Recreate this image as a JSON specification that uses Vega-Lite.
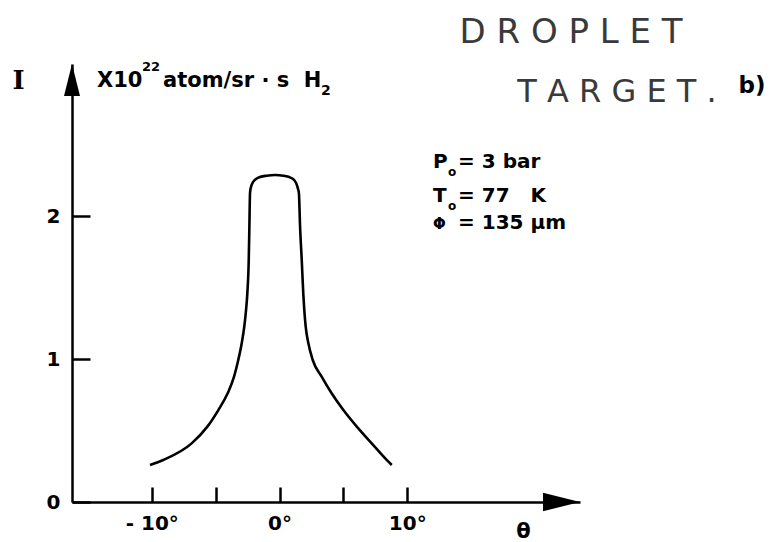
{
  "$schema": "https://vega.github.io/schema/vega-lite/v6.json",
  "autosize": {"type": "none"},
  "width": 508,
  "height": 438,
  "padding": {"left": 72, "top": 64, "right": 194, "bottom": 40},
  "background": "white",
  "config": {"view": {"stroke": null}, "font": "DejaVu Sans"},
  "datasets": {
    "beam": [
      {"theta": -10.14, "I": 0.259},
      {"theta": -9.10, "I": 0.294},
      {"theta": -6.88, "I": 0.410},
      {"theta": -5.65, "I": 0.527},
      {"theta": -4.79, "I": 0.643},
      {"theta": -4.06, "I": 0.760},
      {"theta": -3.56, "I": 0.876},
      {"theta": -3.23, "I": 0.993},
      {"theta": -2.96, "I": 1.110},
      {"theta": -2.76, "I": 1.226},
      {"theta": -2.62, "I": 1.343},
      {"theta": -2.52, "I": 1.459},
      {"theta": -2.41, "I": 1.692},
      {"theta": -2.36, "I": 1.925},
      {"theta": -2.31, "I": 2.159},
      {"theta": -2.26, "I": 2.194},
      {"theta": -2.05, "I": 2.240},
      {"theta": -1.66, "I": 2.268},
      {"theta": -1.00, "I": 2.282},
      {"theta": -0.35, "I": 2.287},
      {"theta": 0.30, "I": 2.282},
      {"theta": 0.96, "I": 2.264},
      {"theta": 1.29, "I": 2.233},
      {"theta": 1.47, "I": 2.182},
      {"theta": 1.52, "I": 2.159},
      {"theta": 1.61, "I": 1.925},
      {"theta": 1.74, "I": 1.692},
      {"theta": 1.86, "I": 1.459},
      {"theta": 1.94, "I": 1.343},
      {"theta": 2.05, "I": 1.226},
      {"theta": 2.26, "I": 1.110},
      {"theta": 2.60, "I": 0.993},
      {"theta": 3.30, "I": 0.876},
      {"theta": 4.08, "I": 0.760},
      {"theta": 5.00, "I": 0.643},
      {"theta": 6.05, "I": 0.527},
      {"theta": 7.22, "I": 0.410},
      {"theta": 8.39, "I": 0.294},
      {"theta": 8.79, "I": 0.259}
    ],
    "one": [{}]
  },
  "layer": [
    {
      "data": {"name": "beam"},
      "mark": {"type": "line", "interpolate": "monotone", "color": "black", "strokeWidth": 2.6},
      "encoding": {
        "x": {
          "field": "theta", "type": "quantitative",
          "scale": {"domain": [-16.25, 23.53], "nice": false, "zero": false},
          "axis": {
            "values": [-10, -5, 0, 5, 10],
            "labelExpr": "datum.value == -10 ? '- 10°' : datum.value == 0 ? '0°' : datum.value == 10 ? '10°' : ''",
            "grid": false,
            "domainColor": "black", "domainWidth": 2.5,
            "tickColor": "black", "tickWidth": 2.5, "tickSize": -15,
            "labelFont": "DejaVu Sans", "labelFontWeight": "bold", "labelFontSize": 20, "labelColor": "black",
            "labelPadding": 26, "labelFlush": false, "labelOverlap": false,
            "title": "θ", "titleFont": "DejaVu Sans", "titleFontSize": 21, "titleFontWeight": "bold", "titleColor": "black",
            "titleX": 451, "titleY": 29, "titleAlign": "center", "titleBaseline": "middle"
          }
        },
        "y": {
          "field": "I", "type": "quantitative",
          "scale": {"domain": [0, 3.063], "nice": false, "zero": false},
          "axis": {
            "values": [0, 1, 2],
            "format": "d",
            "grid": false,
            "domainColor": "black", "domainWidth": 2.5,
            "tickColor": "black", "tickWidth": 2.5, "tickSize": -18,
            "labelFont": "DejaVu Sans", "labelFontWeight": "bold", "labelFontSize": 20, "labelColor": "black",
            "labelPadding": 30, "labelFlush": false, "labelOverlap": false,
            "title": "I", "titleAngle": 0, "titleFont": "DejaVu Serif", "titleFontSize": 26, "titleFontWeight": "bold", "titleColor": "black",
            "titleX": -54, "titleY": 16, "titleAlign": "center", "titleBaseline": "middle"
          }
        }
      }
    },
    {
      "data": {"name": "one"},
      "mark": {"type": "point", "shape": "M -1 -0.5 L 1 0 L -1 0.5 Z", "size": 1369, "filled": true, "color": "black", "opacity": 1, "strokeWidth": 0},
      "encoding": {
        "x": {"datum": 22.08, "type": "quantitative"},
        "y": {"datum": 0, "type": "quantitative"}
      }
    },
    {
      "data": {"name": "one"},
      "mark": {"type": "point", "shape": "M -0.5 1 L 0 -1 L 0.5 1 Z", "size": 1024, "filled": true, "color": "black", "opacity": 1, "strokeWidth": 0},
      "encoding": {
        "x": {"datum": -16.25, "type": "quantitative"},
        "y": {"datum": 2.951, "type": "quantitative"}
      }
    },
    {
      "data": {"name": "one"},
      "mark": {"type": "text", "text": "X10", "align": "left", "baseline": "alphabetic", "font": "DejaVu Sans", "fontWeight": "bold", "fontSize": 21, "color": "black"},
      "encoding": {
        "x": {"datum": -14.29, "type": "quantitative"},
        "y": {"datum": 2.902, "type": "quantitative"}
      }
    },
    {
      "data": {"name": "one"},
      "mark": {"type": "text", "text": "22", "align": "left", "baseline": "alphabetic", "font": "DejaVu Sans", "fontWeight": "bold", "fontSize": 13, "color": "black"},
      "encoding": {
        "x": {"datum": -10.77, "type": "quantitative"},
        "y": {"datum": 3.014, "type": "quantitative"}
      }
    },
    {
      "data": {"name": "one"},
      "mark": {"type": "text", "text": "atom/sr · s\u00a0\u00a0H", "align": "left", "baseline": "alphabetic", "font": "DejaVu Sans", "fontWeight": "bold", "fontSize": 21, "color": "black"},
      "encoding": {
        "x": {"datum": -9.12, "type": "quantitative"},
        "y": {"datum": 2.902, "type": "quantitative"}
      }
    },
    {
      "data": {"name": "one"},
      "mark": {"type": "text", "text": "2", "align": "left", "baseline": "alphabetic", "font": "DejaVu Sans", "fontWeight": "bold", "fontSize": 14, "color": "black"},
      "encoding": {
        "x": {"datum": 3.25, "type": "quantitative"},
        "y": {"datum": 2.846, "type": "quantitative"}
      }
    },
    {
      "data": {"name": "one"},
      "mark": {"type": "text", "text": "P", "align": "left", "baseline": "alphabetic", "font": "DejaVu Sans", "fontWeight": "bold", "fontSize": 20, "color": "black"},
      "encoding": {
        "x": {"datum": 12.02, "type": "quantitative"},
        "y": {"datum": 2.336, "type": "quantitative"}
      }
    },
    {
      "data": {"name": "one"},
      "mark": {"type": "text", "text": "o", "align": "left", "baseline": "alphabetic", "font": "DejaVu Sans", "fontWeight": "bold", "fontSize": 12, "color": "black"},
      "encoding": {
        "x": {"datum": 13.20, "type": "quantitative"},
        "y": {"datum": 2.280, "type": "quantitative"}
      }
    },
    {
      "data": {"name": "one"},
      "mark": {"type": "text", "text": "= 3 bar", "align": "left", "baseline": "alphabetic", "font": "DejaVu Sans", "fontWeight": "bold", "fontSize": 20, "color": "black"},
      "encoding": {
        "x": {"datum": 13.98, "type": "quantitative"},
        "y": {"datum": 2.336, "type": "quantitative"}
      }
    },
    {
      "data": {"name": "one"},
      "mark": {"type": "text", "text": "T", "align": "left", "baseline": "alphabetic", "font": "DejaVu Sans", "fontWeight": "bold", "fontSize": 20, "color": "black"},
      "encoding": {
        "x": {"datum": 12.02, "type": "quantitative"},
        "y": {"datum": 2.098, "type": "quantitative"}
      }
    },
    {
      "data": {"name": "one"},
      "mark": {"type": "text", "text": "o", "align": "left", "baseline": "alphabetic", "font": "DejaVu Sans", "fontWeight": "bold", "fontSize": 12, "color": "black"},
      "encoding": {
        "x": {"datum": 13.20, "type": "quantitative"},
        "y": {"datum": 2.042, "type": "quantitative"}
      }
    },
    {
      "data": {"name": "one"},
      "mark": {"type": "text", "text": "= 77\u00a0\u00a0\u00a0K", "align": "left", "baseline": "alphabetic", "font": "DejaVu Sans", "fontWeight": "bold", "fontSize": 20, "color": "black"},
      "encoding": {
        "x": {"datum": 13.98, "type": "quantitative"},
        "y": {"datum": 2.098, "type": "quantitative"}
      }
    },
    {
      "data": {"name": "one"},
      "mark": {"type": "text", "text": "Φ", "align": "left", "baseline": "alphabetic", "font": "DejaVu Sans", "fontWeight": "bold", "fontSize": 15, "color": "black"},
      "encoding": {
        "x": {"datum": 12.02, "type": "quantitative"},
        "y": {"datum": 1.909, "type": "quantitative"}
      }
    },
    {
      "data": {"name": "one"},
      "mark": {"type": "text", "text": "= 135 µm", "align": "left", "baseline": "alphabetic", "font": "DejaVu Sans", "fontWeight": "bold", "fontSize": 20, "color": "black"},
      "encoding": {
        "x": {"datum": 13.98, "type": "quantitative"},
        "y": {"datum": 1.909, "type": "quantitative"}
      }
    },
    {
      "data": {"name": "one"},
      "mark": {"type": "text", "text": "D R O P L E T", "align": "center", "baseline": "middle", "font": "DejaVu Sans", "fontWeight": "normal", "fontSize": 34, "color": "#3a3a3a"},
      "encoding": {
        "x": {"datum": 22.83, "type": "quantitative"},
        "y": {"datum": 3.280, "type": "quantitative"}
      }
    },
    {
      "data": {"name": "one"},
      "mark": {"type": "text", "text": "T A R G E T .", "align": "center", "baseline": "middle", "font": "DejaVu Sans", "fontWeight": "normal", "fontSize": 32, "color": "#3a3a3a"},
      "encoding": {
        "x": {"datum": 26.43, "type": "quantitative"},
        "y": {"datum": 2.867, "type": "quantitative"}
      }
    },
    {
      "data": {"name": "one"},
      "mark": {"type": "text", "text": "b)", "align": "center", "baseline": "middle", "font": "DejaVu Sans", "fontWeight": "bold", "fontSize": 23, "color": "black"},
      "encoding": {
        "x": {"datum": 37.0, "type": "quantitative"},
        "y": {"datum": 2.909, "type": "quantitative"}
      }
    }
  ]
}
